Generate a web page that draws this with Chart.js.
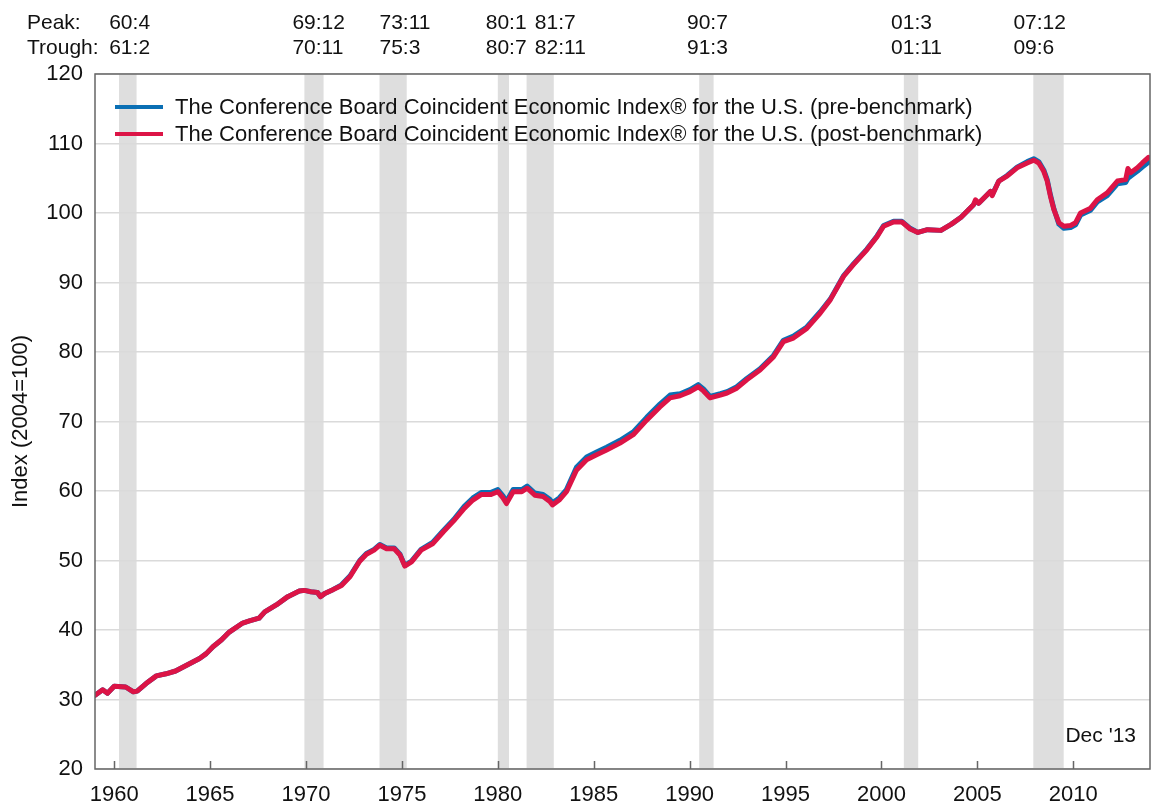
<!DOCTYPE html>
<html>
<head>
<meta charset="utf-8">
<script src="https://cdn.jsdelivr.net/npm/chart.js@4.4.1/dist/chart.umd.min.js"></script>
<style>
  body { margin: 0; background: #fff; }
  canvas { display: block; }
</style>
</head>
<body>
<canvas id="grafico" width="1158" height="805"></canvas>
<script>
// datas em anos decimais
var anos = [
  1959.0, 1959.4, 1959.65, 1960.0, 1960.6, 1961.0, 1961.2, 1961.66, 1962.2, 1962.7,
  1963.2, 1963.75, 1964.45, 1964.8, 1965.15, 1965.6, 1966.0, 1966.7, 1967.05, 1967.55,
  1967.85, 1968.45, 1969.05, 1969.65, 1969.92, 1970.25, 1970.6, 1970.75, 1970.95, 1971.4,
  1971.85, 1972.3, 1972.8, 1973.15, 1973.55, 1973.85, 1974.2, 1974.6, 1974.9, 1975.15,
  1975.5, 1976.0, 1976.6, 1977.15, 1977.7, 1978.25, 1978.7, 1979.15, 1979.65, 1980.0,
  1980.27, 1980.45, 1980.8, 1981.25, 1981.53, 1981.93, 1982.36, 1982.71, 1982.85, 1983.2,
  1983.58, 1984.1, 1984.63, 1985.15, 1985.67, 1986.37, 1987.06, 1987.76, 1988.45, 1988.98,
  1989.5, 1990.02, 1990.45, 1990.72, 1991.06, 1991.6, 1991.95, 1992.46, 1992.98, 1993.67,
  1994.37, 1994.89, 1995.41, 1996.11, 1996.81, 1997.33, 1998.03, 1998.55, 1999.24, 1999.77,
  2000.11, 2000.63, 2001.07, 2001.5, 2001.9, 2002.4, 2003.1, 2003.65, 2004.15, 2004.8,
  2004.9, 2005.07, 2005.5, 2005.68, 2005.77, 2006.12, 2006.55, 2007.07, 2007.6, 2007.94,
  2008.2, 2008.46, 2008.64, 2008.81, 2008.99, 2009.25, 2009.51, 2009.86, 2010.12, 2010.38,
  2010.9, 2011.25, 2011.77, 2012.3, 2012.73, 2012.85, 2012.99, 2013.34, 2013.6, 2013.92
];

var posBenchmark = [
  30.6, 31.4, 30.9, 31.9, 31.8, 31.1, 31.2, 32.3, 33.4, 33.7,
  34.1, 34.9, 35.9, 36.6, 37.6, 38.6, 39.7, 41.0, 41.3, 41.7,
  42.6, 43.6, 44.8, 45.6, 45.7, 45.5, 45.4, 44.8, 45.2, 45.8,
  46.4, 47.7, 49.9, 50.9, 51.5, 52.2, 51.7, 51.7, 50.8, 49.2,
  49.8, 51.5, 52.4, 54.1, 55.7, 57.5, 58.7, 59.5, 59.5, 59.9,
  59.0, 58.2, 59.9, 59.9, 60.4, 59.4, 59.2, 58.5, 58.0, 58.7,
  59.9, 63.0, 64.5, 65.2, 65.9, 66.9, 68.1, 70.2, 72.1, 73.4,
  73.7, 74.3, 75.0, 74.4, 73.4, 73.8, 74.1, 74.8, 76.0, 77.4,
  79.3, 81.5, 82.0, 83.4, 85.6, 87.5, 90.9, 92.6, 94.7, 96.6,
  98.1, 98.7, 98.7, 97.7, 97.2, 97.6, 97.5, 98.4, 99.4, 101.2,
  101.9, 101.4, 102.6, 103.1, 102.5, 104.6, 105.3, 106.5, 107.2, 107.6,
  107.2, 106.0, 104.6, 102.4, 100.5, 98.6, 98.1, 98.2, 98.6, 100.0,
  100.7, 101.9, 102.9, 104.6, 104.8, 106.4, 105.8, 106.5, 107.2, 108.0
];

var preBenchmark = [
  30.6, 31.4, 30.9, 31.9, 31.8, 31.1, 31.2, 32.3, 33.4, 33.7,
  34.1, 34.9, 35.9, 36.6, 37.6, 38.6, 39.7, 41.0, 41.3, 41.7,
  42.6, 43.6, 44.8, 45.6, 45.7, 45.5, 45.4, 44.8, 45.2, 45.8,
  46.5, 47.8, 50.0, 51.0, 51.6, 52.3, 51.8, 51.8, 50.9, 49.3,
  49.9, 51.6, 52.6, 54.3, 55.9, 57.8, 59.0, 59.8, 59.8, 60.2,
  59.3, 58.5, 60.2, 60.2, 60.7, 59.7, 59.5, 58.8, 58.3, 59.0,
  60.2, 63.4, 64.9, 65.6, 66.3, 67.3, 68.5, 70.6, 72.5, 73.8,
  74.0, 74.6, 75.3, 74.7, 73.6, 74.0, 74.3, 75.0, 76.2, 77.6,
  79.5, 81.7, 82.3, 83.6, 85.8, 87.6, 91.0, 92.7, 94.8, 96.7,
  98.2, 98.8, 98.8, 97.8, 97.2, 97.6, 97.5, 98.4, 99.4, 101.2,
  101.6, 101.4, 102.6, 103.1, 102.6, 104.6, 105.4, 106.6, 107.4, 107.8,
  107.4, 106.2, 104.8, 102.6, 100.6, 98.4, 97.8, 97.9, 98.3, 99.7,
  100.4, 101.6, 102.5, 104.2, 104.4, 105.0, 105.3, 106.0, 106.6, 107.3
];

// picos e vales (ano:mes)
var picos = ['60:4', '69:12', '73:11', '80:1', '81:7', '90:7', '01:3', '07:12'];
var vales = ['61:2', '70:11', '75:3', '80:7', '82:11', '91:3', '01:11', '09:6'];

var xTicks = [1960, 1965, 1970, 1975, 1980, 1985, 1990, 1995, 2000, 2005, 2010];
var yTicks = [20, 30, 40, 50, 60, 70, 80, 90, 100, 110, 120];

// onde comeca o texto de cada par pico/vale (em anos)
var posRotulos = [1959.74, 1969.29, 1973.83, 1979.37, 1981.93, 1989.86, 2000.50, 2006.88];

var nomes = [
  'The Conference Board Coincident Economic Index\u00AE for the U.S. (pre-benchmark)',
  'The Conference Board Coincident Economic Index\u00AE for the U.S. (post-benchmark)'
];

var AZUL = '#0a6fb4';
var VERMELHO = '#dc1446';
var FONTE = '"Liberation Sans", Arial, sans-serif';

function paraAno(s, fim){
  var p = s.split(':');
  var a = parseInt(p[0], 10);
  a = a < 50 ? 2000 + a : 1900 + a;
  var m = parseInt(p[1], 10);
  return fim ? a + m / 12 : a + (m - 1) / 12;
}

function pontos(vals){
  return anos.map(function(a, i){ return {x: a, y: vals[i]}; });
}

var recessoes = {
  id: 'recessoes',
  beforeDraw: function(chart){
    var c = chart.ctx, x = chart.scales.x, area = chart.chartArea;
    c.save();
    c.fillStyle = '#dedede';
    for (var i = 0; i < picos.length; i++){
      var x1 = x.getPixelForValue(paraAno(picos[i], false));
      var x2 = x.getPixelForValue(paraAno(vales[i], true));
      c.fillRect(x1, area.top, x2 - x1, area.bottom - area.top);
    }
    c.restore();
  }
};

var extras = {
  id: 'extras',
  afterDraw: function(chart){
    var c = chart.ctx, x = chart.scales.x, area = chart.chartArea;
    c.save();
    // moldura
    c.strokeStyle = '#666';
    c.lineWidth = 1.5;
    c.strokeRect(area.left, area.top, area.right - area.left, area.bottom - area.top);
    // tracinhos do eixo x, para dentro
    c.beginPath();
    xTicks.forEach(function(t){
      var px = Math.round(x.getPixelForValue(t)) + 0.5;
      c.moveTo(px, area.bottom);
      c.lineTo(px, area.bottom - 8);
    });
    c.stroke();

    c.fillStyle = '#111';
    c.textBaseline = 'alphabetic';
    c.font = '21px ' + FONTE;
    c.textAlign = 'left';
    c.fillText('Peak:', 27, 29);
    c.fillText('Trough:', 27, 54);
    for (var i = 0; i < picos.length; i++){
      var px = x.getPixelForValue(posRotulos[i]);
      c.fillText(picos[i], px, 29);
      c.fillText(vales[i], px, 54);
    }

    c.textAlign = 'right';
    c.fillText("Dec '13", area.right - 14, area.bottom - 27);

    // legenda
    var cores = [AZUL, VERMELHO];
    c.textAlign = 'left';
    c.textBaseline = 'middle';
    c.font = '22px ' + FONTE;
    for (var j = 0; j < nomes.length; j++){
      var y = area.top + 33 + j * 27;
      c.strokeStyle = cores[j];
      c.lineWidth = 4;
      c.beginPath();
      c.moveTo(area.left + 20, y);
      c.lineTo(area.left + 68, y);
      c.stroke();
      c.fillStyle = '#111';
      c.fillText(nomes[j], area.left + 80, y + 1);
    }
    c.restore();
  }
};

var ctx = document.getElementById('grafico');

new Chart(ctx, {
  type: 'line',
  data: {
    datasets: [
      {
        label: nomes[0],
        data: pontos(preBenchmark),
        borderColor: AZUL,
        borderWidth: 5,
        pointRadius: 0,
        order: 1
      },
      {
        label: nomes[1],
        data: pontos(posBenchmark),
        borderColor: VERMELHO,
        borderWidth: 5,
        pointRadius: 0,
        order: 0
      }
    ]
  },
  options: {
    responsive: false,
    animation: false,
    layout: { padding: { top: 74, right: 8, left: 0, bottom: 0 } },
    elements: { line: { tension: 0, borderJoinStyle: 'round', borderCapStyle: 'round' } },
    plugins: {
      legend: { display: false },
      tooltip: { enabled: false }
    },
    scales: {
      x: {
        type: 'linear',
        min: 1959,
        max: 2014,
        afterBuildTicks: function(s){ s.ticks = xTicks.map(function(v){ return {value: v}; }); },
        afterFit: function(s){ s.height = 36; },
        grid: { display: false },
        border: { display: false },
        ticks: {
          color: '#111',
          padding: 5,
          maxRotation: 0,
          autoSkip: false,
          font: { family: FONTE, size: 22 },
          callback: function(v){ return String(v); }
        }
      },
      y: {
        min: 20,
        max: 120,
        afterBuildTicks: function(s){ s.ticks = yTicks.map(function(v){ return {value: v}; }); },
        afterFit: function(s){ s.width = 95; },
        grid: { color: '#dadada', lineWidth: 1.5, drawTicks: false },
        border: { display: false },
        title: {
          display: true,
          text: 'Index (2004=100)',
          color: '#111',
          padding: { top: 8, bottom: 0 },
          font: { family: FONTE, size: 22 }
        },
        ticks: {
          color: '#111',
          padding: 12,
          font: { family: FONTE, size: 22 }
        }
      }
    }
  },
  plugins: [recessoes, extras]
});
</script>
</body>
</html>
